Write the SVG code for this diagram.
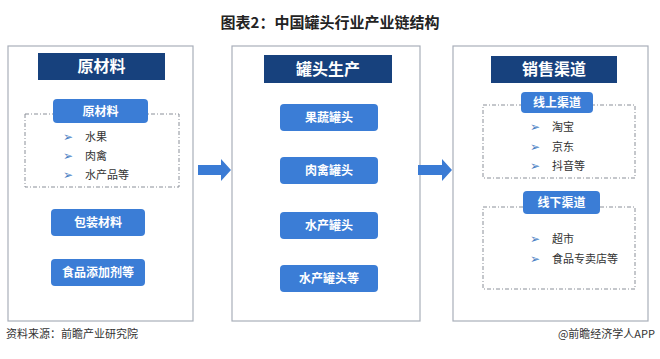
<svg xmlns="http://www.w3.org/2000/svg" width="660" height="359" viewBox="0 0 660 359">
<style>
text{font-family:"Noto Sans CJK SC","Liberation Sans",sans-serif}
.title{font-size:15px;font-weight:bold;fill:#222}
.panel{fill:#fff;stroke:#a9afb9;stroke-width:1.2}
.hdr{fill:#17417d}
.hdrt{font-size:16px;font-weight:bold;fill:#fff}
.btn{fill:#3b7dd6}
.btnt{font-size:12px;font-weight:bold;fill:#fff}
.dash{fill:none;stroke:#8a8f98;stroke-width:1;stroke-dasharray:4 2 1 2}
.item{font-size:11px;fill:#333}
.bul{font-size:12px;fill:#4a7fc4;font-family:"DejaVu Sans",sans-serif}
.foot{font-size:11px;fill:#333}
.arrow{fill:#3a7bd5}
</style>
<rect width="660" height="359" fill="#fff"/>
<text class="title" x="330" y="28" text-anchor="middle">图表2：中国罐头行业产业链结构</text>

<g id="panel-raw">
<rect class="panel" x="8" y="46" width="185" height="275"/>
<rect class="hdr" x="38" y="53" width="127" height="27"/>
<text class="hdrt" x="101.5" y="72" text-anchor="middle">原材料</text>
<rect class="dash" x="25" y="114" width="154" height="73"/>
<rect class="btn" x="53" y="99" width="95" height="24" rx="4"/>
<text class="btnt" x="100.5" y="115.5" text-anchor="middle">原材料</text>
<text class="bul" x="63" y="141">➢</text><text class="item" x="85" y="141">水果</text>
<text class="bul" x="63" y="160">➢</text><text class="item" x="85" y="160">肉禽</text>
<text class="bul" x="63" y="179">➢</text><text class="item" x="85" y="179">水产品等</text>
<rect class="btn" x="51" y="209" width="94" height="27" rx="4"/>
<text class="btnt" x="98" y="227" text-anchor="middle">包装材料</text>
<rect class="btn" x="51" y="259" width="94" height="27" rx="4"/>
<text class="btnt" x="98" y="277" text-anchor="middle">食品添加剂等</text>
</g>

<g id="panel-production">
<rect class="panel" x="232" y="46" width="188" height="275"/>
<rect class="hdr" x="264" y="55" width="128" height="28"/>
<text class="hdrt" x="328" y="75" text-anchor="middle">罐头生产</text>
<rect class="btn" x="280" y="104" width="98" height="27" rx="4"/>
<text class="btnt" x="329" y="122" text-anchor="middle">果蔬罐头</text>
<rect class="btn" x="280" y="157" width="98" height="27" rx="4"/>
<text class="btnt" x="329" y="175" text-anchor="middle">肉禽罐头</text>
<rect class="btn" x="280" y="212" width="98" height="27" rx="4"/>
<text class="btnt" x="329" y="230" text-anchor="middle">水产罐头</text>
<rect class="btn" x="280" y="265" width="98" height="27" rx="4"/>
<text class="btnt" x="329" y="283" text-anchor="middle">水产罐头等</text>
</g>

<g id="panel-sales">
<rect class="panel" x="453" y="46" width="195" height="275"/>
<rect class="hdr" x="491" y="56" width="126" height="27"/>
<text class="hdrt" x="554" y="75" text-anchor="middle">销售渠道</text>
<rect class="dash" x="483" y="105" width="152" height="73"/>
<rect class="btn" x="521" y="92" width="72" height="21" rx="4"/>
<text class="btnt" x="557" y="107" text-anchor="middle">线上渠道</text>
<text class="bul" x="530" y="131">➢</text><text class="item" x="552" y="131">淘宝</text>
<text class="bul" x="530" y="151">➢</text><text class="item" x="552" y="151">京东</text>
<text class="bul" x="530" y="170">➢</text><text class="item" x="552" y="170">抖音等</text>
<rect class="dash" x="483" y="207" width="152" height="82"/>
<rect class="btn" x="523" y="191" width="77" height="23" rx="4"/>
<text class="btnt" x="561.5" y="207" text-anchor="middle">线下渠道</text>
<text class="bul" x="530" y="243">➢</text><text class="item" x="552" y="243">超市</text>
<text class="bul" x="530" y="263">➢</text><text class="item" x="552" y="263">食品专卖店等</text>
</g>

<g id="connectors">
<path class="arrow" d="M198 165 H221 V159 L231 170 L221 181 V175 H198 Z"/>
<path class="arrow" d="M418 165 H442 V159 L452 170 L442 181 V175 H418 Z"/>
</g>

<text class="foot" x="6" y="338">资料来源：前瞻产业研究院</text>
<text class="foot" x="655" y="338" text-anchor="end">@前瞻经济学人APP</text>
</svg>
